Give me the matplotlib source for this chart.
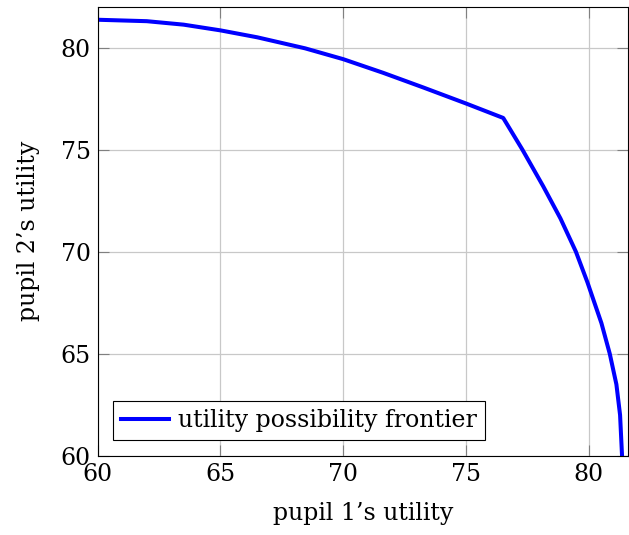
import matplotlib
matplotlib.use('Agg')
import matplotlib.pyplot as plt

# utility possibility frontier
u1 = [60, 62, 63.5, 65, 66.5, 68.45, 70, 71.63, 73.27, 75, 76.52,
      77.3, 78.15, 78.85, 79.48, 79.95, 80.52, 80.86, 81.13, 81.28, 81.36]
u2 = [81.36, 81.29, 81.12, 80.84, 80.5, 79.96, 79.43, 78.76, 78.04, 77.26, 76.55,
      75, 73.2, 71.63, 70, 68.5, 66.5, 65, 63.5, 62, 60]
xticks = [60, 65, 70, 75, 80]
yticks = [60, 65, 70, 75, 80]

plt.rcParams['font.family'] = ['DejaVu Serif']
plt.rcParams['font.size'] = 17

fig = plt.figure(figsize=(6.29, 5.35), dpi=100)
ax = fig.add_axes([0.1553, 0.148, 0.843, 0.8395])

ax.plot(u1, u2, color='#0000ff', lw=2.9, label='utility possibility frontier')

ax.set_xlim(60, 81.6)
ax.set_ylim(60, 82)
ax.set_xticks(xticks)
ax.set_yticks(yticks)
ax.grid(True, color='#c8c8c8', lw=0.9)
ax.set_axisbelow(True)
ax.tick_params(direction='in', length=8, width=0.8, color='#808080',
               top=True, right=True, pad=5)
for s in ax.spines.values():
    s.set_linewidth(0.8)

ax.set_xlabel('pupil 1’s utility', labelpad=12)
ax.set_ylabel('pupil 2’s utility', labelpad=15)

leg = ax.legend(loc='lower left', fancybox=False, framealpha=1,
                edgecolor='black', handlelength=2.0, handletextpad=0.4,
                borderpad=0.35, borderaxespad=0.65)
leg.get_frame().set_linewidth(0.8)

fig.savefig('out.png', dpi=100)
